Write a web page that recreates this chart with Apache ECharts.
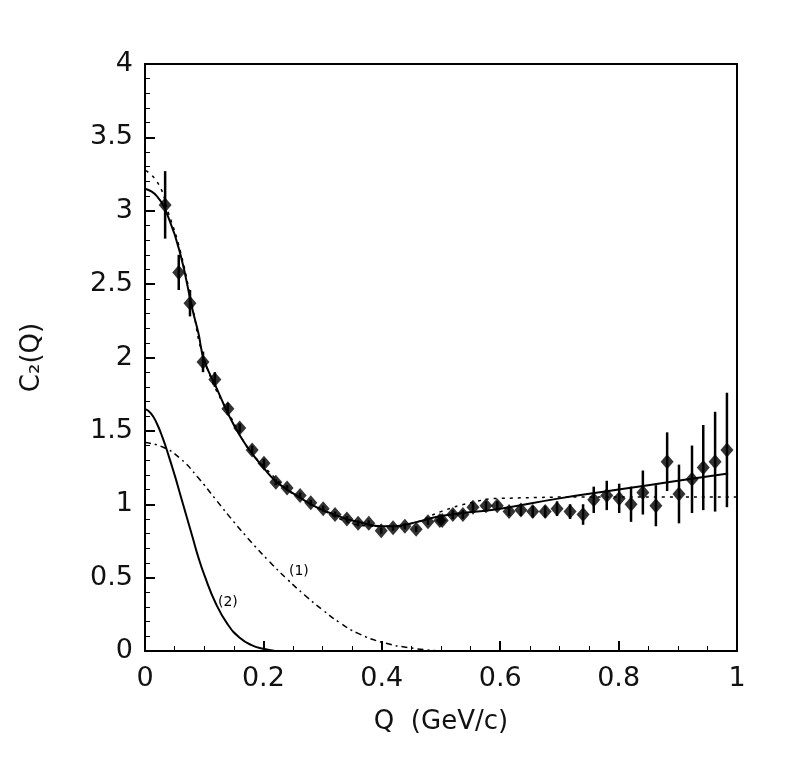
<!DOCTYPE html>
<html>
<head>
<meta charset="utf-8">
<script src="https://cdn.jsdelivr.net/npm/echarts@6/dist/echarts.min.js"></script>
<style>html,body{margin:0;background:#fff}#c{width:787px;height:779px}</style>
</head>
<body>
<div id="c"></div>
<script>
// measured points
const qVals = [0.034,0.057,0.076,0.098,0.118,0.140,0.160,0.181,0.201,0.221,0.240,0.262,0.280,0.301,0.321,0.341,0.360,0.378,0.399,0.419,0.439,0.458,0.478,0.498,
  0.502,0.520,0.537,0.554,0.576,0.595,0.615,0.635,0.655,0.676,0.696,0.718,0.740,0.758,0.780,0.801,0.821,0.841,0.863,0.882,0.902,0.924,0.943,0.963,0.983];
const c2Vals = [3.04,2.58,2.37,1.97,1.85,1.65,1.52,1.37,1.28,1.15,1.11,1.06,1.01,0.97,0.93,0.90,0.87,0.87,0.82,0.84,0.85,0.83,0.88,0.89,
  0.89,0.93,0.93,0.98,0.99,0.99,0.95,0.96,0.95,0.95,0.97,0.95,0.93,1.03,1.06,1.04,1.00,1.08,0.99,1.29,1.07,1.17,1.25,1.29,1.37];
const c2Err = [0.23,0.12,0.09,0.07,0.05,0.04,0.03,0.03,0.03,0.02,0.02,0.02,0.02,0.02,0.02,0.02,0.02,0.02,0.02,0.02,0.02,0.02,0.02,0.02,
  0.02,0.03,0.03,0.03,0.03,0.03,0.03,0.04,0.04,0.04,0.05,0.05,0.07,0.09,0.1,0.1,0.12,0.15,0.14,0.2,0.2,0.23,0.29,0.34,0.39];

// fit curves
const fitQ = [0,0.02,0.04,0.06,0.08,0.09,0.1,0.12,0.14,0.16,0.18,0.2,0.22,0.24,0.26,0.28,0.3,0.32,0.34,0.36,0.38,0.4,0.42,0.44,0.46,0.5,0.6,0.7,0.8,0.9,0.985];
const fitC2 = [3.15,3.1,2.95,2.7,2.33,2.17,1.98,1.8,1.62,1.47,1.35,1.25,1.16,1.1,1.05,1.0,0.96,0.93,0.9,0.88,0.86,0.85,0.85,0.86,0.88,0.92,0.97,1.04,1.1,1.16,1.21];
const altQ = [-0.01,0.02,0.04,0.06,0.08,0.1,0.14,0.2,0.3,0.4,0.45,0.5,0.55,0.6,0.8,1.0];
const altC2 = [3.3,3.2,2.98,2.72,2.35,1.99,1.63,1.26,0.96,0.85,0.87,0.95,1.01,1.04,1.05,1.05];
const c1Q = [0,0.03,0.06,0.09,0.12,0.15,0.18,0.21,0.24,0.27,0.3,0.33,0.36,0.4,0.45,0.5];
const c1Vals = [1.42,1.39,1.31,1.18,1.03,0.88,0.74,0.61,0.49,0.38,0.28,0.19,0.12,0.06,0.02,0];
const c2Q = [0,0.01,0.02,0.03,0.04,0.05,0.06,0.07,0.08,0.09,0.1,0.12,0.14,0.16,0.18,0.2,0.22];
const c2Curve = [1.65,1.62,1.55,1.45,1.33,1.2,1.06,0.92,0.78,0.64,0.52,0.32,0.18,0.09,0.04,0.015,0];

const zip = (a, b) => a.map((x, i) => [x, b[i]]);
const font = 'DejaVu Sans';
const tag = (text, q, v) => ({
  coord: [q, v], symbol: 'circle', symbolSize: 1, itemStyle: { color: 'transparent' },
  label: { show: true, position: 'inside', formatter: text, fontFamily: font, fontSize: 14, color: '#000' }
});

const chart = echarts.init(document.getElementById('c'));
chart.setOption({
  backgroundColor: '#fff',
  animation: false,
  grid: { left: 145, right: 50, top: 64, bottom: 128, show: true, borderColor: '#000', borderWidth: 2 },
  xAxis: {
    type: 'value', min: 0, max: 1, interval: 0.2,
    name: 'Q  (GeV/c)', nameLocation: 'middle', nameGap: 58,
    nameTextStyle: { fontFamily: font, fontSize: 26, color: '#111' },
    axisLine: { lineStyle: { color: '#000', width: 2 } },
    axisTick: { inside: true, length: 10, lineStyle: { color: '#000', width: 2 } },
    minorTick: { show: true, splitNumber: 4, length: 5, lineStyle: { color: '#000' } },
    splitLine: { show: false },
    axisLabel: { fontFamily: font, fontSize: 27, color: '#111', margin: 14 }
  },
  yAxis: {
    type: 'value', min: 0, max: 4, interval: 0.5,
    name: 'C\u2082(Q)', nameLocation: 'middle', nameGap: 100, nameRotate: 90,
    nameTextStyle: { fontFamily: font, fontSize: 26, color: '#111' },
    axisLine: { lineStyle: { color: '#000', width: 2 } },
    axisTick: { inside: true, length: 10, lineStyle: { color: '#000', width: 2 } },
    minorTick: { show: true, splitNumber: 5, length: 5, lineStyle: { color: '#000' } },
    splitLine: { show: false },
    axisLabel: { fontFamily: font, fontSize: 27, color: '#111', margin: 12 }
  },
  series: [
    { type: 'line', data: zip(fitQ, fitC2), smooth: true, symbol: 'none', lineStyle: { color: '#000', width: 2 } },
    { type: 'line', data: zip(altQ, altC2), smooth: true, symbol: 'none', lineStyle: { color: '#000', width: 1.5, type: [3, 5] } },
    { type: 'line', data: zip(c1Q, c1Vals), smooth: true, symbol: 'none', lineStyle: { color: '#000', width: 1.5, type: [6, 4, 2, 4] },
      markPoint: { data: [tag('(1)', 0.26, 0.54)] } },
    { type: 'line', data: zip(c2Q, c2Curve), smooth: true, symbol: 'none', lineStyle: { color: '#000', width: 2 },
      markPoint: { data: [tag('(2)', 0.14, 0.33)] } },
    {
      type: 'custom',
      data: qVals.map((q, i) => [q, c2Vals[i] - c2Err[i], c2Vals[i] + c2Err[i]]),
      renderItem: (params, api) => {
        const lo = api.coord([api.value(0), api.value(1)]);
        const hi = api.coord([api.value(0), api.value(2)]);
        return { type: 'line', shape: { x1: lo[0], y1: lo[1], x2: hi[0], y2: hi[1] }, style: { stroke: '#000', lineWidth: 2.5 } };
      },
      z: 3
    },
    { type: 'scatter', data: zip(qVals, c2Vals), symbol: 'diamond', symbolSize: [13, 15], itemStyle: { color: '#000' }, z: 4 }
  ]
});
</script>
</body>
</html>
